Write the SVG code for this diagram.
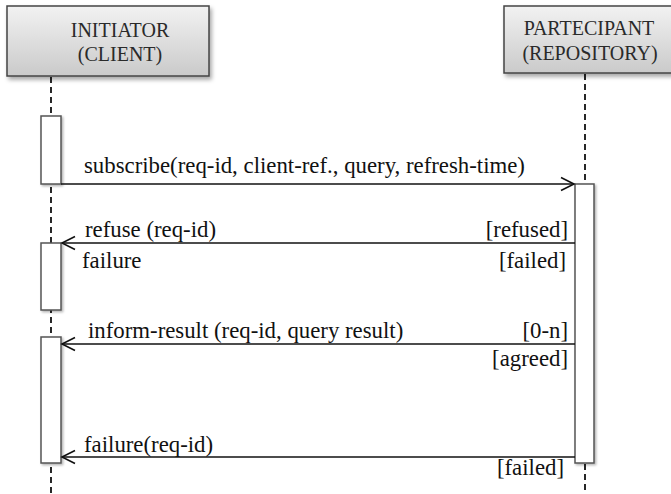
<svg xmlns="http://www.w3.org/2000/svg" width="671" height="494" viewBox="0 0 671 494">
  <defs>
    <linearGradient id="headFill" x1="0" y1="0" x2="0" y2="1">
      <stop offset="0" stop-color="#f2f2f2"/>
      <stop offset="1" stop-color="#cacaca"/>
    </linearGradient>
    <filter id="shadow" x="-10%" y="-10%" width="130%" height="140%">
      <feDropShadow dx="2" dy="3" stdDeviation="2" flood-color="#000" flood-opacity="0.35"/>
    </filter>
    <filter id="barShadow" x="-40%" y="-10%" width="180%" height="120%">
      <feDropShadow dx="1.5" dy="1.5" stdDeviation="1.2" flood-color="#000" flood-opacity="0.3"/>
    </filter>
    <marker id="open" markerWidth="16" markerHeight="16" refX="14" refY="8" orient="auto" markerUnits="userSpaceOnUse">
      <path d="M1,1.5 L14,8 L1,14.5" fill="none" stroke="#111" stroke-width="1.6"/>
    </marker>
  </defs>
  <style>
    .head { fill: url(#headFill); stroke: #444; stroke-width: 1.5; filter: url(#shadow); }
    .htxt { font-family: "Liberation Serif", "Times New Roman", serif; font-size: 20px; fill: #2a2a2a; text-anchor: middle; }
    .life { stroke: #111; stroke-width: 1.8; stroke-dasharray: 6 4; fill: none; }
    .bar { fill: #fff; stroke: #555; stroke-width: 1.5; filter: url(#barShadow); }
    .msg { stroke: #111; stroke-width: 1.6; fill: none; marker-end: url(#open); }
    .lbl { font-family: "Liberation Serif", "Times New Roman", serif; font-size: 22.8px; fill: #111; }
    .grd { font-family: "Liberation Serif", "Times New Roman", serif; font-size: 22.8px; fill: #111; text-anchor: end; }
  </style>

  <rect width="671" height="494" fill="#fff"/>

  <!-- lifelines -->
  <g id="lifelines">
    <line class="life" x1="51" y1="77" x2="51" y2="494"/>
    <line class="life" x1="585" y1="74" x2="585" y2="494"/>
  </g>

  <g id="initiator">
    <rect class="head" x="7" y="6" width="202" height="70"/>
    <text class="htxt" x="120" y="37">INITIATOR</text>
    <text class="htxt" x="120" y="61">(CLIENT)</text>
  </g>

  <g id="participant">
    <rect class="head" x="504" y="6" width="172" height="67"/>
    <text class="htxt" x="589" y="35">PARTECIPANT</text>
    <text class="htxt" x="590" y="60">(REPOSITORY)</text>
  </g>

  <!-- activation bars -->
  <g id="activations">
    <rect class="bar" x="41" y="116" width="20" height="68"/>
    <rect class="bar" x="41" y="243" width="20" height="67"/>
    <rect class="bar" x="41" y="337" width="20" height="126"/>
    <rect class="bar" x="575" y="184" width="19" height="279"/>
  </g>

  <!-- messages -->
  <g id="connectors">
    <line class="msg" x1="61" y1="184" x2="574" y2="184"/>
    <line class="msg" x1="575" y1="243" x2="62" y2="243"/>
    <line class="msg" x1="575" y1="344" x2="62" y2="344"/>
    <line class="msg" x1="575" y1="457" x2="62" y2="457"/>
  </g>

  <g id="labels">
    <text class="lbl" x="84" y="173">subscribe(req-id, client-ref., query, refresh-time)</text>
    <text class="lbl" x="85" y="237">refuse (req-id)</text>
    <text class="grd" x="568" y="237">[refused]</text>
    <text class="lbl" x="82" y="268">failure</text>
    <text class="grd" x="566" y="268">[failed]</text>
    <text class="lbl" x="88" y="338">inform-result (req-id, query result)</text>
    <text class="grd" x="568" y="338">[0-n]</text>
    <text class="grd" x="568" y="366">[agreed]</text>
    <text class="lbl" x="84" y="452">failure(req-id)</text>
    <text class="grd" x="564" y="475">[failed]</text>
  </g>
</svg>
